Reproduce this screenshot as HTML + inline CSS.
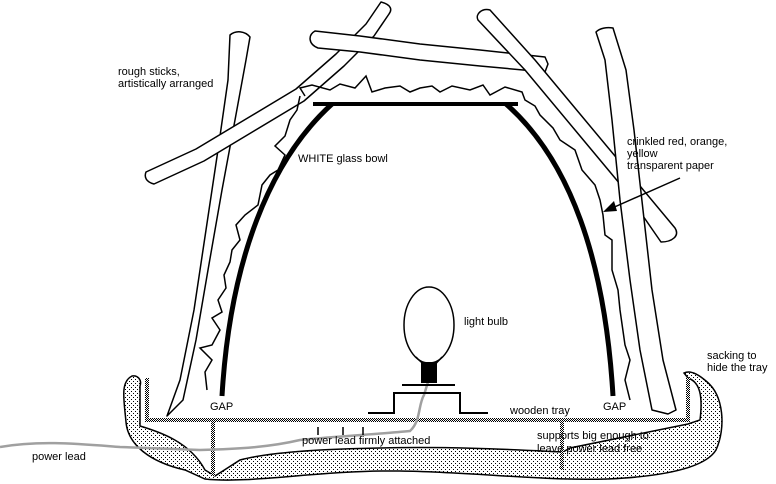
<!DOCTYPE html>
<html><head><meta charset="utf-8"><style>
html,body{margin:0;padding:0;background:#fff;}
svg{display:block}
text{font-family:"Liberation Sans",sans-serif;font-size:11px;fill:#000}
</style></head><body>
<svg width="776" height="484" viewBox="0 0 776 484" xmlns="http://www.w3.org/2000/svg">
<defs>
<pattern id="dots" width="4" height="4" patternUnits="userSpaceOnUse"><rect width="4" height="4" fill="#fff"/><rect x="1" y="1" width="1" height="1" fill="#000"/><rect x="3" y="3" width="1" height="1" fill="#000"/></pattern>
<pattern id="hatch" width="2" height="2" patternUnits="userSpaceOnUse"><rect width="2" height="2" fill="#fff"/><rect width="1" height="1" fill="#000"/><rect x="1" y="1" width="1" height="1" fill="#000"/></pattern>
</defs>
<!-- sacking -->
<path d="M132,376 C120,382 124,400 126,422 C128,445 150,462 185,470 L205,479 C250,484 320,470 400,471 C480,472 560,483 625,478 C665,475 705,468 716,450 C726,428 724,395 706,381 C698,374 690,370 684,373 L688,378 C700,382 703,396 700,420 L688,424 L570,448 L563,452 C520,450 450,446 380,448 C320,449 270,452 240,460 L215,476 L205,470 C190,442 160,432 140,426 L140,386 C142,380 138,375 132,376 Z" fill="url(#dots)" stroke="#000" stroke-width="1.5"/>
<!-- tray -->
<path d="M147,378 L147,420 L688,420 L688,378" fill="none" stroke="url(#hatch)" stroke-width="4"/>
<line x1="213" y1="420" x2="213" y2="476" stroke="url(#hatch)" stroke-width="4"/>
<line x1="562" y1="420" x2="562" y2="470" stroke="url(#hatch)" stroke-width="4"/>
<!-- power lead -->
<path d="M0,447 C40,440 80,444 120,447 L200,450 C240,449 270,447 300,440 C340,436 380,434 410,431 C421,421 418,405 424,395 L428,382" fill="none" stroke="#a0a0a0" stroke-width="2.5"/>
<g stroke="#000" stroke-width="1.5"><line x1="318" y1="427" x2="318" y2="435"/><line x1="343" y1="427" x2="343" y2="435"/><line x1="363" y1="427" x2="363" y2="435"/></g>
<!-- sticks -->
<g fill="#fff" stroke="#000" stroke-width="1.5" stroke-linejoin="round">
<path d="M230,35 L228,80 L218,150 L206,230 L194,310 L180,380 L167,416 L183,400 L196,340 L208,270 L222,190 L235,120 L246,60 L250,37 C245,31 236,30 230,35 Z"/>
<path d="M146,172 L196,149 L246,119 L296,89 L336,54 L366,24 L381,2 C392,5 392,10 389,14 L374,36 L344,66 L304,101 L254,131 L204,161 L154,184 C146,182 144,177 146,172 Z"/>
<path d="M315,31 L360,36 L420,44 L480,50 L545,57 L548,64 L545,72 L480,66 L420,60 L360,52 L318,48 C308,44 308,35 315,31 Z"/>
<path d="M490,10 L535,60 L585,120 L635,180 L675,228 C680,236 672,242 661,242 L625,190 L575,130 L525,70 L478,20 C475,14 482,8 490,10 Z"/>
<path d="M596,32 L605,60 L612,120 L620,200 L630,280 L640,350 L652,410 L668,414 L676,410 L663,360 L652,290 L643,210 L634,130 L626,70 L613,28 C607,27 600,28 596,32 Z"/>
</g>
<!-- bowl -->
<g fill="none" stroke="#000">
<line x1="313" y1="104" x2="518" y2="104" stroke-width="4"/>
<path d="M332,104 C270,160 230,260 222,396" stroke-width="5"/>
<path d="M506,104 C570,160 605,260 613,396" stroke-width="5"/>
</g>
<!-- bulb -->
<ellipse cx="429" cy="325" rx="25" ry="38" fill="#fff" stroke="#000" stroke-width="1.5"/>
<path d="M416,357 C420,362 423,362 424,366 M442,357 C438,362 436,362 435,366" fill="none" stroke="#000" stroke-width="1.5"/>
<rect x="421" y="362" width="16" height="21" fill="#000"/>
<g stroke="#000" stroke-width="2" fill="none">
<line x1="402" y1="385" x2="455" y2="385"/>
<path d="M368,413 L394,413 L394,393 L460,393 L460,413 L488,413"/>
</g>
<!-- crinkled paper -->
<g fill="none" stroke="#000" stroke-width="1.5">
<path d="M305,96 L300,88 L312,85 L330,90 L340,84 L355,88 L366,76 L372,92 L385,88 L400,86 L410,92 L420,88 L432,86 L440,92 L452,86 L470,90 L483,85 L490,95 L505,87 L522,92 L525,100 L535,106 L540,115 L553,128 L560,140 L575,150 L582,170 L595,185 L600,200 L603,215 L605,235 L612,240 L612,270 L618,290 L620,310 L625,345 L630,360 L625,380 L630,400"/>
<path d="M300,96 L297,110 L290,120 L285,136 L275,146 L285,155 L278,170 L270,175 L262,185 L258,205 L245,215 L236,225 L240,240 L232,250 L230,262 L224,275 L226,288 L218,300 L222,312 L212,318 L220,330 L212,345 L200,348 L212,360 L205,372 L207,390"/>
</g>
<!-- arrow -->
<line x1="680" y1="178" x2="610" y2="209" stroke="#000" stroke-width="1.5"/>
<polygon points="603,212 614,201 617,211" fill="#000"/>
<!-- labels -->
<text x="118" y="75">rough sticks,</text>
<text x="118" y="87">artistically arranged</text>
<text x="298" y="162">WHITE glass bowl</text>
<text x="627" y="145">crinkled red, orange,</text>
<text x="627" y="157">yellow</text>
<text x="627" y="169">transparent paper</text>
<text x="464" y="325">light bulb</text>
<text x="210" y="410">GAP</text>
<text x="603" y="410">GAP</text>
<text x="510" y="414">wooden tray</text>
<text x="302" y="444">power lead firmly attached</text>
<text x="537" y="439">supports big enough to</text>
<text x="537" y="452">leave power lead free</text>
<text x="707" y="359">sacking to</text>
<text x="707" y="371">hide the tray</text>
<text x="32" y="460">power lead</text>
</svg>
</body></html>
